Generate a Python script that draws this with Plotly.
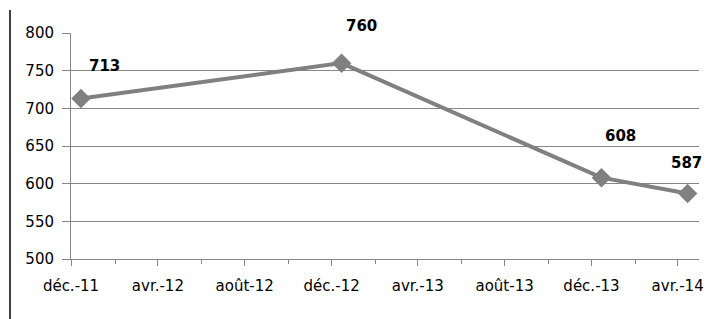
import plotly.graph_objects as go

dates = ["2011-12-15", "2012-12-15", "2013-12-15", "2014-04-15"]
values = [713, 760, 608, 587]
tick_dates = ["2011-12-01", "2012-04-01", "2012-08-01", "2012-12-01",
              "2013-04-01", "2013-08-01", "2013-12-01", "2014-04-01"]
tick_labels = ["déc.-11", "avr.-12", "août-12", "déc.-12",
               "avr.-13", "août-13", "déc.-13", "avr.-14"]
label_shift = [(24, 33), (20, 37), (19, 42), (-1, 30)]

fig = go.Figure()
fig.add_trace(go.Scatter(
    x=dates, y=values, mode="lines+markers",
    line=dict(color="#808080", width=4),
    marker=dict(symbol="diamond", size=15, color="#808080"),
    hoverinfo="skip", showlegend=False,
))

for d, v, (dx, dy) in zip(dates, values, label_shift):
    fig.add_annotation(x=d, y=v, text=str(v), showarrow=False,
                       xshift=dx, yshift=dy,
                       font=dict(family="DejaVu Sans", size=15, color="#000000", weight="bold"))

fig.add_shape(type="line", xref="paper", yref="paper",
              x0=(10 - 71) / 628, x1=(10 - 71) / 628, y0=-60 / 226, y1=(259 - 10) / 226,
              line=dict(color="#000000", width=1.5))

fig.update_layout(
    width=710, height=311,
    margin=dict(l=63, r=19, t=25, b=60),
    paper_bgcolor="white", plot_bgcolor="white",
    font=dict(family="DejaVu Sans", size=15, color="#000000"),
    xaxis=dict(
        type="date", range=["2011-12-01", "2014-05-01"],
        tickvals=tick_dates, ticktext=tick_labels,
        ticks="outside", ticklen=6, tickcolor="#868686",
        ticklabelstandoff=7,
        showline=True, linecolor="#868686", linewidth=1,
        showgrid=False, zeroline=False,
        minor=dict(dtick="M2", tick0="2011-12-01", ticks="outside", ticklen=4,
                   tickcolor="#868686", showgrid=False),
        tickfont=dict(size=15),
    ),
    yaxis=dict(
        range=[500, 800], dtick=50, tick0=500,
        ticks="outside", ticklen=8, tickcolor="#868686",
        ticklabelstandoff=5,
        showline=True, linecolor="#868686", linewidth=1,
        showgrid=True, gridcolor="#868686", gridwidth=1,
        zeroline=False, tickfont=dict(size=15),
    ),
)

fig.write_html("out.html")
